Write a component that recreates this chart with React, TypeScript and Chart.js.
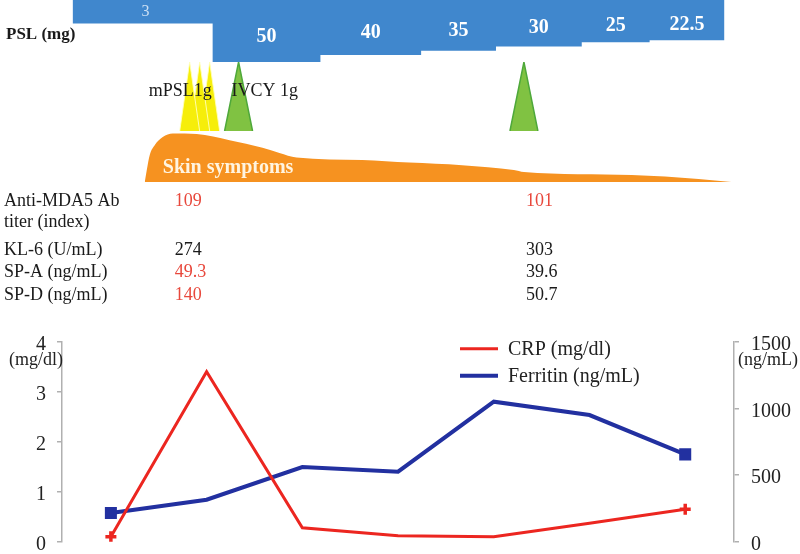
import React, { useEffect, useRef } from 'react';
import { Chart, registerables } from 'chart.js';

Chart.register(...registerables);

const FONT = "'Liberation Serif', 'Times New Roman', serif";

// ---- Data (timeline in visit-index units) ----
const VISITS = [0, 1, 2, 3, 4, 5, 6];
const CRP = [0.1, 3.4, 0.28, 0.12, 0.1, 0.37, 0.65];
const FERRITIN = [215, 315, 560, 525, 1050, 950, 655];

const PSL_STARTS = [-0.4, 1.063, 2.189, 3.241, 4.023, 4.919, 5.628];
const PSL_END = 6.41;
const PSL_DOSES = [3, 50, 40, 35, 30, 25, 22.5];
const PSL_LABELS = ['3', '50', '40', '35', '30', '25', '22.5'];
const PSL_TOP = -24.7;

const MPSL_PULSES = [0.823, 0.928, 1.032];
const IVCY_PULSES = [1.334, 4.315];
const PULSE_HALF = [0.104, 0.146];

const SKIN_T = [0.354, 0.375, 0.406, 0.459, 0.542, 0.646, 0.896, 1.24, 1.584, 1.761, 1.939, 2.626, 3.116, 3.669, 4.21, 4.315, 5.44, 6.139, 6.482];
const SKIN_LEVEL = [0, 0.235, 0.53, 0.725, 0.88, 0.95, 0.94, 0.82, 0.67, 0.57, 0.48, 0.43, 0.38, 0.33, 0.235, 0.196, 0.137, 0.06, 0];

const TABLE_LABELS = [['Anti-MDA5 Ab', 'titer (index)'], ['KL-6 (U/mL)'], ['SP-A (ng/mL)'], ['SP-D (ng/mL)']];
const TABLE_ROW_LINE = [0, 2.35, 3.42, 4.5];
const TABLE_DAYS = [0.667, 4.336];
const TABLE_COL1 = ['109', '274', '49.3', '140'];
const TABLE_COL2 = ['101', '303', '39.6', '50.7'];
const COL1_HIGH = [true, false, true, true];
const COL2_HIGH = [true, false, false, false];

const CRP_TICKS = [0, 1, 2, 3, 4];
const FER_TICKS = [0, 500, 1000, 1500];

// ---- Colours ----
const RED = 'rgb(236,38,32)';
const NAVY = 'rgb(34,48,160)';
const BAR_BLUE = 'rgb(64,135,205)';
const ORANGE = 'rgb(246,146,32)';
const YELLOW = 'rgb(246,238,10)';
const GREEN = 'rgb(128,194,66)';
const GREEN_EDGE = 'rgb(78,168,58)';
const TXT_RED = 'rgb(232,72,60)';
const AXIS_GRAY = '#b0b0b0';

const LEFT_W = 62;
const RIGHT_W = 66;

const triangle = (c: number, h: number) => [
  { x: c - h, y: 0 },
  { x: c, y: 1 },
  { x: c + h, y: 0 },
];

const overlayPlugin = {
  id: 'overlay',
  afterDatasetsDraw(chart: any) {
    const ctx = chart.ctx;
    const { x, yPSL, yTri, ySkin, yTable, yCRP, yFer } = chart.scales;
    ctx.save();
    ctx.textBaseline = 'middle';

    // PSL title
    ctx.textAlign = 'left';
    ctx.fillStyle = '#1a1a1a';
    ctx.font = `bold 17px ${FONT}`;
    ctx.fillText('PSL (mg)', 6, yPSL.top + 35);

    // Dose labels
    const yTop = yPSL.getPixelForValue(PSL_TOP);
    PSL_DOSES.forEach((d, i) => {
      const x0 = x.getPixelForValue(PSL_STARTS[i]);
      const x1 = x.getPixelForValue(i + 1 < PSL_STARTS.length ? PSL_STARTS[i + 1] : PSL_END);
      const yb = yPSL.getPixelForValue(d);
      ctx.textAlign = 'center';
      if (i === 0) {
        ctx.font = `16px ${FONT}`;
        ctx.fillStyle = 'rgba(210,228,246,0.95)';
        ctx.fillText(PSL_LABELS[i], (x0 + x1) / 2 + 3, (yTop + yb) / 2);
      } else {
        ctx.font = `bold 20px ${FONT}`;
        ctx.fillStyle = '#ffffff';
        ctx.fillText(PSL_LABELS[i], (x0 + x1) / 2, (yTop + yb) / 2 + 5);
      }
    });

    // Pulse labels
    ctx.textAlign = 'left';
    ctx.fillStyle = '#1a1a1a';
    ctx.font = `18px ${FONT}`;
    ctx.fillText('mPSL1g', x.getPixelForValue(MPSL_PULSES[0]) - 41, yTri.getPixelForValue(0.58));
    ctx.fillText('IVCY 1g', x.getPixelForValue(IVCY_PULSES[0]) - 7, yTri.getPixelForValue(0.58));

    // Skin label
    ctx.font = `bold 20px ${FONT}`;
    ctx.fillStyle = 'rgba(255,250,235,0.95)';
    ctx.fillText('Skin symptoms', x.getPixelForValue(SKIN_T[0]) + 18, ySkin.getPixelForValue(0.27));

    // Table
    ctx.font = `18px ${FONT}`;
    TABLE_LABELS.forEach((lines, r) => {
      lines.forEach((ln, k) => {
        ctx.fillStyle = '#1a1a1a';
        ctx.textAlign = 'left';
        ctx.fillText(ln, 4, yTable.getPixelForValue(TABLE_ROW_LINE[r] + k));
      });
      const yy = yTable.getPixelForValue(TABLE_ROW_LINE[r]);
      ctx.fillStyle = COL1_HIGH[r] ? TXT_RED : '#1a1a1a';
      ctx.fillText(TABLE_COL1[r], x.getPixelForValue(TABLE_DAYS[0]), yy);
      ctx.fillStyle = COL2_HIGH[r] ? TXT_RED : '#1a1a1a';
      ctx.fillText(TABLE_COL2[r], x.getPixelForValue(TABLE_DAYS[1]), yy);
    });

    // Axis units
    ctx.font = `18px ${FONT}`;
    ctx.fillStyle = '#222';
    ctx.textAlign = 'right';
    ctx.fillText('(mg/dl)', yCRP.right + 1, yCRP.top + 19);
    ctx.textAlign = 'left';
    ctx.fillText('(ng/mL)', yFer.left + 4, yFer.top + 19);

    // Legend
    const ds = chart.data.datasets;
    const lx0 = 460, lx1 = 498;
    [0, 1].forEach((i) => {
      const ly = yCRP.top + 7 + i * 27;
      ctx.strokeStyle = ds[i].borderColor;
      ctx.lineWidth = i === 0 ? 3 : 4;
      ctx.beginPath();
      ctx.moveTo(lx0, ly);
      ctx.lineTo(lx1, ly);
      ctx.stroke();
      ctx.fillStyle = '#222';
      ctx.font = `20px ${FONT}`;
      ctx.textAlign = 'left';
      ctx.fillText(ds[i].label, lx1 + 10, ly + 1);
    });

    ctx.restore();
  },
};

export default function App() {
  const ref = useRef<HTMLCanvasElement | null>(null);

  useEffect(() => {
    if (!ref.current) return;
    Chart.defaults.font.family = FONT;
    const last = VISITS.length - 1;
    const endOnly = (r: number) => (c: any) => (c.dataIndex === 0 || c.dataIndex === last ? r : 0);

    const pslData = PSL_STARTS.map((s, i) => ({ x: s, y: PSL_DOSES[i] }));
    pslData.push({ x: PSL_END, y: PSL_DOSES[PSL_DOSES.length - 1] });

    const datasets: any[] = [
      {
        label: 'CRP (mg/dl)',
        data: VISITS.map((v, i) => ({ x: v, y: CRP[i] })),
        yAxisID: 'yCRP',
        borderColor: RED,
        backgroundColor: RED,
        borderWidth: 3,
        pointStyle: 'cross',
        pointRadius: endOnly(5.5),
        pointBorderWidth: 3.5,
        pointBorderColor: RED,
        fill: false,
        tension: 0,
      },
      {
        label: 'Ferritin (ng/mL)',
        data: VISITS.map((v, i) => ({ x: v, y: FERRITIN[i] })),
        yAxisID: 'yFer',
        borderColor: NAVY,
        backgroundColor: NAVY,
        borderWidth: 4,
        pointStyle: 'rect',
        pointRadius: endOnly(8.5),
        pointBorderWidth: 0,
        pointBackgroundColor: NAVY,
        fill: false,
        tension: 0,
      },
      {
        label: 'PSL',
        data: pslData,
        yAxisID: 'yPSL',
        stepped: true,
        borderWidth: 0,
        borderColor: BAR_BLUE,
        backgroundColor: BAR_BLUE,
        fill: { value: PSL_TOP },
        pointRadius: 0,
      },
      ...MPSL_PULSES.map((p) => ({
        label: 'mPSL',
        data: triangle(p, PULSE_HALF[0]),
        yAxisID: 'yTri',
        borderWidth: 1,
        borderColor: 'rgba(255,255,190,0.9)',
        backgroundColor: YELLOW,
        fill: 'origin',
        pointRadius: 0,
      })),
      ...IVCY_PULSES.map((p) => ({
        label: 'IVCY',
        data: triangle(p, PULSE_HALF[1]),
        yAxisID: 'yTri',
        borderWidth: 1.5,
        borderColor: GREEN_EDGE,
        backgroundColor: GREEN,
        fill: 'origin',
        pointRadius: 0,
      })),
      {
        label: 'Skin',
        data: SKIN_T.map((t, i) => ({ x: t, y: SKIN_LEVEL[i] })),
        yAxisID: 'ySkin',
        borderWidth: 0,
        borderColor: ORANGE,
        backgroundColor: ORANGE,
        fill: 'origin',
        cubicInterpolationMode: 'monotone',
        pointRadius: 0,
      },
    ];

    const fixLeft = (s: any) => { s.width = LEFT_W; s.paddingTop = 0; s.paddingBottom = 0; };
    const fixRight = (s: any) => { s.width = RIGHT_W; s.paddingTop = 0; s.paddingBottom = 0; };
    const hidden = (extra: any) => ({
      type: 'linear',
      display: false,
      afterFit: extra.position === 'left' ? fixLeft : fixRight,
      ...extra,
    });
    const tickFont = { family: FONT, size: 20 };
    const plain = (v: any) => String(v);

    const chart = new Chart(ref.current, {
      type: 'line',
      data: { datasets },
      plugins: [overlayPlugin],
      options: {
        animation: false,
        responsive: false,
        devicePixelRatio: 1,
        layout: { autoPadding: false, padding: { top: 0, bottom: 12.3, left: 0, right: 0 } },
        plugins: { legend: { display: false }, tooltip: { enabled: false } },
        events: [],
        scales: {
          x: { type: 'linear', display: false, min: -0.5107, max: 6.5096 },
          yPSL: hidden({ position: 'left', stack: 'L', stackWeight: 62, weight: 5, reverse: true, min: PSL_TOP, max: 48.2 }),
          yTri: hidden({ position: 'left', stack: 'L', stackWeight: 69, weight: 4, min: 0, max: 1 }),
          ySkin: hidden({ position: 'left', stack: 'L', stackWeight: 51, weight: 3, min: 0, max: 1 }),
          yTable: hidden({ position: 'left', stack: 'L', stackWeight: 159.7, weight: 2, reverse: true, min: -0.9, max: 6.705 }),
          yCRP: {
            type: 'linear',
            position: 'left',
            stack: 'L',
            stackWeight: 200,
            weight: 1,
            min: 0,
            max: 4,
            afterBuildTicks: (s: any) => { s.ticks = CRP_TICKS.map((v) => ({ value: v })); },
            ticks: { font: tickFont, color: '#222', padding: 11, labelOffset: 3, autoSkip: false, callback: plain },
            grid: { drawOnChartArea: false, color: AXIS_GRAY, tickLength: 5, lineWidth: 1.5 },
            border: { color: AXIS_GRAY, width: 1.5 },
            afterFit: fixLeft,
          },
          yR0: hidden({ position: 'right', stack: 'R', stackWeight: 341.7, weight: 1, min: 0, max: 1 }),
          yFer: {
            type: 'linear',
            position: 'right',
            stack: 'R',
            stackWeight: 200,
            weight: 2,
            min: 0,
            max: 1500,
            afterBuildTicks: (s: any) => { s.ticks = FER_TICKS.map((v) => ({ value: v })); },
            ticks: { font: tickFont, color: '#222', padding: 12, labelOffset: 3, autoSkip: false, callback: plain },
            grid: { drawOnChartArea: false, color: AXIS_GRAY, tickLength: 5, lineWidth: 1.5 },
            border: { color: AXIS_GRAY, width: 1.5 },
            afterFit: fixRight,
          },
        },
      } as any,
    });
    return () => chart.destroy();
  }, []);

  return (
    <div style={{ position: 'absolute', left: 0, top: 0, width: 800, height: 554, background: '#fff' }}>
      <canvas ref={ref} width={800} height={554} style={{ width: 800, height: 554, display: 'block' }} />
    </div>
  );
}
